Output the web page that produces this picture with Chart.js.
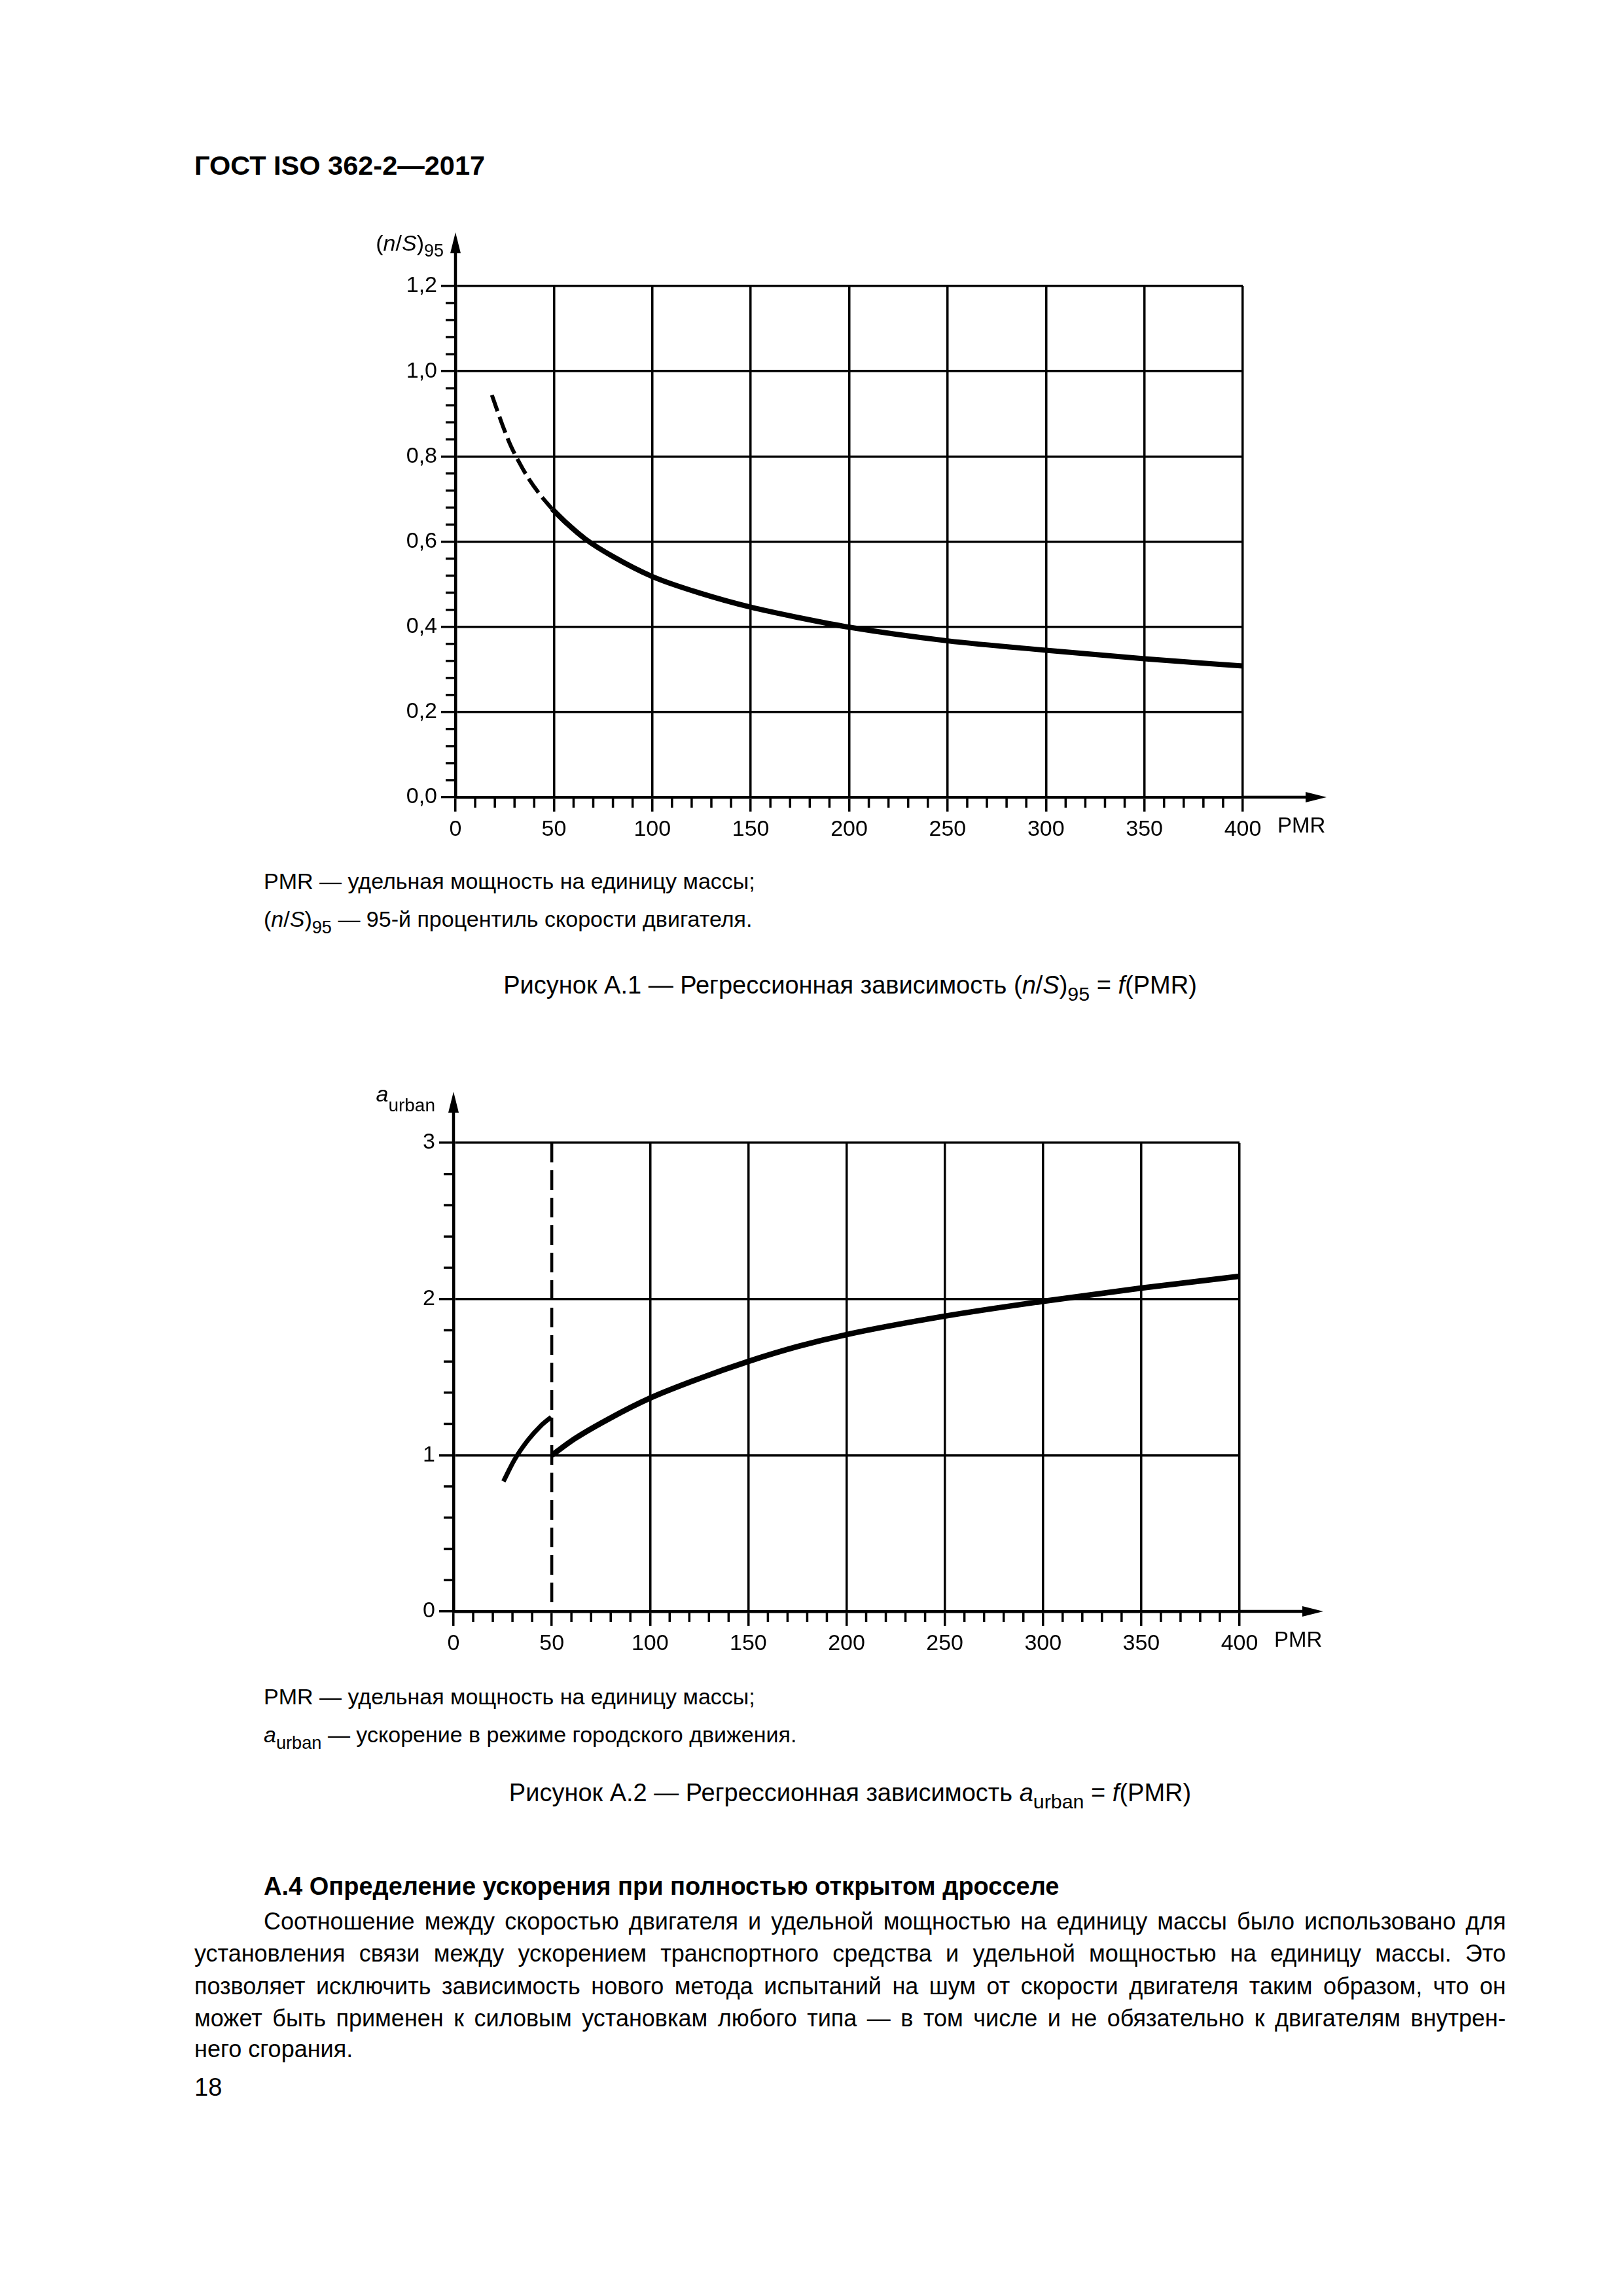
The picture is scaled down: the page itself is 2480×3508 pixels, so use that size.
<!DOCTYPE html>
<html lang="ru">
<head>
<meta charset="utf-8">
<title>ГОСТ ISO 362-2—2017</title>
<script src="https://cdn.jsdelivr.net/npm/chart.js@4.4.1/dist/chart.umd.min.js"></script>
<style>
  html, body { margin: 0; padding: 0; background: #fff; }
  body {
    width: 2480px; height: 3508px; position: relative; overflow: hidden;
    font-family: "Liberation Sans", Arial, sans-serif; color: #000;
  }
  canvas { position: absolute; }
  .t { position: absolute; white-space: nowrap; line-height: 50px; }
  sub { font-size: 80%; vertical-align: -0.35em; line-height: 0; }
  .head { font-size: 41.5px; font-weight: bold; left: 297px; }
  .note { font-size: 34px; left: 403px; }
  .cap { font-size: 38px; left: 297px; width: 2004px; text-align: center; }
  .h2 { font-size: 38px; font-weight: bold; left: 403px; }
  .par { font-size: 36px; left: 297px; width: 2004px; text-align: justify; text-align-last: justify; }
  .par.first { left: 403px; width: 1898px; }
  .par.last { text-align-last: left; }
  .pg { font-size: 38px; left: 297px; }
</style>
</head>
<body>
<canvas id="chartNS" width="1560" height="1000" style="left:500px;top:300px"></canvas>
<canvas id="chartAcc" width="1560" height="920" style="left:500px;top:1610px"></canvas>

<div class="t head" style="top:228px">ГОСТ ISO 362-2—2017</div>

<div class="t note" style="top:1321px">PMR — удельная мощность на единицу массы;</div>
<div class="t note" style="top:1379px">(<i>n</i>/<i>S</i>)<sub>95</sub> — 95-й процентиль скорости двигателя.</div>
<div class="t cap" style="top:1480px">Рисунок А.1 — Регрессионная зависимость (<i>n</i>/<i>S</i>)<sub>95</sub> = <i>f</i>(PMR)</div>

<div class="t note" style="top:2567px">PMR — удельная мощность на единицу массы;</div>
<div class="t note" style="top:2625px"><i>a</i><sub>urban</sub> — ускорение в режиме городского движения.</div>
<div class="t cap" style="top:2714px">Рисунок А.2 — Регрессионная зависимость <i>a</i><sub>urban</sub> = <i>f</i>(PMR)</div>

<div class="t h2" style="top:2857px">А.4 Определение ускорения при полностью открытом дросселе</div>
<div class="t par first" style="top:2911px">Соотношение между скоростью двигателя и удельной мощностью на единицу массы было использовано для</div>
<div class="t par" style="top:2960px">установления связи между ускорением транспортного средства и удельной мощностью на единицу массы. Это</div>
<div class="t par" style="top:3010px">позволяет исключить зависимость нового метода испытаний на шум от скорости двигателя таким образом, что он</div>
<div class="t par" style="top:3059px">может быть применен к силовым установкам любого типа — в том числе и не обязательно к двигателям внутрен-</div>
<div class="t par last" style="top:3106px">него сгорания.</div>
<div class="t pg" style="top:3164px">18</div>

<script>
// Рисунок А.1: (n/S)95 = f(PMR), штриховой участок и основная кривая
const pmrDashed = [18.5, 24, 28, 32.5, 37, 42.5, 49];
const nsDashed = [0.944, 0.872, 0.826, 0.785, 0.749, 0.713, 0.677];
const pmrSolid = [49, 57, 66, 80, 100, 125, 150, 175, 200, 250, 300, 350, 400];
const nsSolid = [0.677, 0.641, 0.606, 0.565, 0.518, 0.478, 0.446, 0.421, 0.399, 0.367, 0.345, 0.325, 0.308];

// Рисунок А.2: a_urban = f(PMR)
const pmrLow = [25.4, 31, 38, 44.5, 49.7];
const accLow = [0.832, 0.97, 1.098, 1.189, 1.244];
const pmrHigh = [50, 62, 79, 100, 125, 150, 175, 200, 250, 300, 350, 400];
const accHigh = [1.0, 1.108, 1.232, 1.365, 1.49, 1.6, 1.695, 1.772, 1.89, 1.985, 2.07, 2.145];
const pmrLimit = [50, 50];
const accLimit = [3, 0];

const pmrTicks = [0, 50, 100, 150, 200, 250, 300, 350, 400];

const FONT = "'Liberation Sans', Arial, sans-serif";
Chart.defaults.font.family = FONT;
Chart.defaults.color = "#000";

function points(xs, ys) {
  return xs.map((x, i) => ({ x: x, y: ys[i] }));
}

function drawRich(ctx, parts, right, baseline, size, subSize, subDrop) {
  const fontOf = (p) => (p.i ? "italic " : "") + (p.sub ? subSize : size) + "px " + FONT;
  let w = 0;
  parts.forEach((p) => {
    ctx.font = fontOf(p);
    w += ctx.measureText(p.t).width;
  });
  let x = right - w;
  ctx.textAlign = "left";
  ctx.textBaseline = "alphabetic";
  parts.forEach((p) => {
    ctx.font = fontOf(p);
    ctx.fillText(p.t, x, baseline + (p.sub ? subDrop : 0));
    x += ctx.measureText(p.t).width;
  });
}

// стрелки осей, мелкие деления и подписи осей
const axisDecor = {
  id: "axisDecor",
  afterDraw(chart, args, o) {
    const { ctx, chartArea: a } = chart;
    const xs = chart.scales.x;
    const ys = chart.scales.y;
    ctx.save();
    ctx.strokeStyle = "#000";
    ctx.fillStyle = "#000";

    ctx.lineWidth = 3.5;
    ctx.beginPath();
    const nx = Math.round((xs.max - xs.min) / o.xMinor);
    const kx = Math.round(o.xMajor / o.xMinor);
    for (let i = 1; i < nx; i++) {
      if (i % kx === 0) continue;
      const px = xs.getPixelForValue(xs.min + i * o.xMinor);
      ctx.moveTo(px, a.bottom);
      ctx.lineTo(px, a.bottom + 16);
    }
    const ny = Math.round((ys.max - ys.min) / o.yMinor);
    const ky = Math.round(o.yMajor / o.yMinor);
    for (let i = 1; i < ny; i++) {
      if (i % ky === 0) continue;
      const py = ys.getPixelForValue(ys.min + i * o.yMinor);
      ctx.moveTo(a.left, py);
      ctx.lineTo(a.left - 15, py);
    }
    ctx.stroke();

    // продолжение осей со стрелками
    ctx.lineWidth = 4.5;
    ctx.beginPath();
    ctx.moveTo(a.right, a.bottom);
    ctx.lineTo(a.right + o.xArrow - 20, a.bottom);
    ctx.moveTo(a.left, a.top);
    ctx.lineTo(a.left, a.top - o.yArrow + 20);
    ctx.stroke();
    ctx.beginPath();
    ctx.moveTo(a.right + o.xArrow, a.bottom);
    ctx.lineTo(a.right + o.xArrow - 32, a.bottom - 8);
    ctx.lineTo(a.right + o.xArrow - 32, a.bottom + 8);
    ctx.closePath();
    ctx.moveTo(a.left, a.top - o.yArrow);
    ctx.lineTo(a.left - 8, a.top - o.yArrow + 32);
    ctx.lineTo(a.left + 8, a.top - o.yArrow + 32);
    ctx.closePath();
    ctx.fill();

    ctx.font = "33px " + FONT;
    ctx.textAlign = "left";
    ctx.textBaseline = "middle";
    ctx.fillText("PMR", a.right + 53, a.bottom + 45);

    drawRich(ctx, o.yLabel, a.left - o.labelGap, a.top - o.labelRise, 34, o.subSize, o.subDrop);
    ctx.restore();
  },
};

function makeScales(yMax, yStep, yFormat, xGridColor) {
  return {
    x: {
      type: "linear",
      min: 0,
      max: 400,
      afterBuildTicks: (s) => { s.ticks = pmrTicks.map((v) => ({ value: v })); },
      ticks: { font: { size: 34 }, padding: 7, maxRotation: 0, autoSkip: false },
      grid: { color: xGridColor, tickColor: "#000", lineWidth: 3.5, tickWidth: 3.5, tickLength: 22 },
      border: { color: "#000", width: 4.5 },
    },
    y: {
      type: "linear",
      min: 0,
      max: yMax,
      ticks: { stepSize: yStep, font: { size: 34 }, padding: 6, callback: yFormat },
      grid: { color: "#000", lineWidth: 3.5, tickWidth: 3.5, tickLength: 22 },
      border: { color: "#000", width: 4.5 },
    },
  };
}

const commonOptions = {
  responsive: false,
  animation: false,
  devicePixelRatio: 1,
};

// Рисунок А.1
const nsScales = makeScales(1.2, 0.2, (v) => v.toFixed(1).replace(".", ","), "#000");
nsScales.y.afterFit = (s) => { s.width = 196; };
nsScales.x.afterFit = (s) => { s.height = 82; };

new Chart(document.getElementById("chartNS").getContext("2d"), {
  type: "scatter",
  data: {
    datasets: [
      {
        data: points(pmrDashed, nsDashed),
        showLine: true,
        borderColor: "#000",
        borderWidth: 6,
        borderDash: [26, 9],
        cubicInterpolationMode: "monotone",
        pointRadius: 0,
      },
      {
        data: points(pmrSolid, nsSolid),
        showLine: true,
        borderColor: "#000",
        borderWidth: 8,
        cubicInterpolationMode: "monotone",
        pointRadius: 0,
      },
    ],
  },
  options: {
    ...commonOptions,
    layout: { padding: { top: 137, right: 161, bottom: 0, left: 0 } },
    scales: nsScales,
    plugins: {
      legend: { display: false },
      tooltip: { enabled: false },
      axisDecor: {
        xMinor: 10, xMajor: 50, yMinor: 0.04, yMajor: 0.2,
        xArrow: 128, yArrow: 82,
        yLabel: [{ t: "(" }, { t: "n", i: true }, { t: "/" }, { t: "S", i: true }, { t: ")" }, { t: "95", sub: true }],
        labelGap: 18, labelRise: 54, subSize: 27, subDrop: 9,
      },
    },
  },
  plugins: [axisDecor],
});

// Рисунок А.2
const accScales = makeScales(3, 1, (v) => String(v),
  (c) => (c.tick && c.tick.value === 50 ? "rgba(0,0,0,0)" : "#000"));
accScales.y.afterFit = (s) => { s.width = 193; };
accScales.x.afterFit = (s) => { s.height = 68; };

new Chart(document.getElementById("chartAcc").getContext("2d"), {
  type: "scatter",
  data: {
    datasets: [
      {
        data: points(pmrLimit, accLimit),
        showLine: true,
        borderColor: "#000",
        borderWidth: 4.5,
        borderDash: [30, 12],
        pointRadius: 0,
      },
      {
        data: points(pmrLow, accLow),
        showLine: true,
        borderColor: "#000",
        borderWidth: 7,
        cubicInterpolationMode: "monotone",
        pointRadius: 0,
      },
      {
        data: points(pmrHigh, accHigh),
        showLine: true,
        borderColor: "#000",
        borderWidth: 8.5,
        cubicInterpolationMode: "monotone",
        pointRadius: 0,
      },
    ],
  },
  options: {
    ...commonOptions,
    layout: { padding: { top: 136, right: 166, bottom: 0, left: 0 } },
    scales: accScales,
    plugins: {
      legend: { display: false },
      tooltip: { enabled: false },
      axisDecor: {
        xMinor: 10, xMajor: 50, yMinor: 0.2, yMajor: 1,
        xArrow: 128, yArrow: 78,
        yLabel: [{ t: "a", i: true }, { t: "urban", sub: true }],
        labelGap: 28, labelRise: 63, subSize: 28, subDrop: 15,
      },
    },
  },
  plugins: [axisDecor],
});
</script>
</body>
</html>
